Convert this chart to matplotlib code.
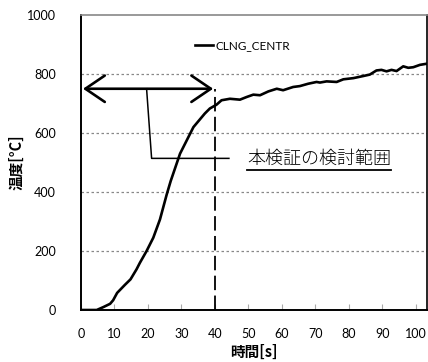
import matplotlib
matplotlib.use("Agg")
import matplotlib.pyplot as plt
from matplotlib.patches import FancyArrowPatch

# CLNG_CENTR temperature history
time_s = [0, 4.7, 6.7, 8.7, 9.6, 10.8, 13.1, 14.8, 16.6, 17.6, 19.6, 21.6,
          23.6, 25.6, 26.8, 29.6, 33.6, 37.0, 38.5, 40.5, 42.0, 44.5, 47.5,
          49.5, 51.5, 53.5, 56.0, 58.5, 60.4, 63.4, 65.4, 67.9, 70.4, 71.4,
          73.4, 76.4, 78.4, 81.4, 84.3, 86.3, 88.3, 89.8, 91.3, 92.8, 94.3,
          96.3, 97.8, 99.3, 101.3, 103.4]
temp_c = [0, 0, 10, 21, 33, 58, 85, 104, 138, 160, 200, 245,
          307, 391, 437, 530, 620, 666, 683, 696, 711, 716, 713,
          722, 730, 728, 741, 750, 745, 756, 759, 767, 773, 771,
          775, 773, 782, 786, 793, 798, 812, 814, 809, 814, 810,
          826, 821, 823, 831, 835]

x_ticks = [0, 10, 20, 30, 40, 50, 60, 70, 80, 90, 100]
y_ticks = [0, 200, 400, 600, 800, 1000]
series_name = "CLNG_CENTR"
range_note = "本検証の検討範囲"
range_start, range_end, range_level = 0.6, 39.5, 750
elbow_top, elbow_bottom, note_level, elbow_end = 19.6, 21.1, 514, 44.2

plt.rcParams['font.family'] = ['Lato', 'DejaVu Sans']
jp = ['Noto Sans CJK JP', 'DejaVu Sans']

fig = plt.figure(figsize=(4.28, 3.62), dpi=100)
ax = fig.add_axes([81 / 428, 52 / 362, 346 / 428, 295 / 362])

ax.plot(time_s, temp_c, color='black', lw=1.9, label=series_name, zorder=5)

ax.set_xlim(0, 103.4)
ax.set_ylim(0, 1000)
ax.set_xticks(x_ticks)
ax.set_yticks(y_ticks)
ax.tick_params(axis='x', direction='in', length=4, color='#aaaaaa', labelsize=9, pad=13)
ax.tick_params(axis='y', length=0, labelsize=9, pad=18)

for v in y_ticks[1:-1]:
    ax.axhline(v, color='#888888', lw=0.9, ls=(0, (2, 2)), zorder=1)

for side in ['left', 'bottom']:
    ax.spines[side].set_color('black')
    ax.spines[side].set_linewidth(1.4)
ax.spines['top'].set_color('#888888')
ax.spines['top'].set_linewidth(1.2)
ax.spines['right'].set_color('black')
ax.spines['right'].set_linewidth(1.2)

ax.set_xlabel("時間[s]", family=jp, fontweight='bold', fontsize=10.5, labelpad=3)
ax.set_ylabel("温度[°C]", family=jp, fontweight='bold', fontsize=10.5, labelpad=2)

ax.legend(loc='center left', bbox_to_anchor=(0.329, 0.895), frameon=False,
          handlelength=1.5, handletextpad=0.25, borderpad=0, borderaxespad=0,
          fontsize=8.5)

# range annotation
ax.plot([40, 40], [0, range_level], color='black', lw=1.3, ls=(0, (8, 3)), zorder=4)
arrow = FancyArrowPatch((range_start, range_level), (range_end, range_level),
                        arrowstyle='<->,head_length=1.4,head_width=0.95',
                        mutation_scale=10, color='black', lw=1.9, zorder=6,
                        shrinkA=0, shrinkB=0)
ax.add_patch(arrow)
ax.plot([elbow_top, elbow_bottom, elbow_end], [range_level, note_level, note_level],
        color='black', lw=1.1, zorder=6)
txt = ax.text(49.6, note_level, range_note, family=jp, fontsize=13, fontweight='light',
              ha='left', va='center', zorder=6)

fig.canvas.draw()
bb = txt.get_window_extent().transformed(ax.transAxes.inverted())
ax.plot([bb.x0, bb.x1], [bb.y0 - 0.008, bb.y0 - 0.008], transform=ax.transAxes,
        color='black', lw=1.3, clip_on=False)

fig.savefig("out.png", dpi=100)
